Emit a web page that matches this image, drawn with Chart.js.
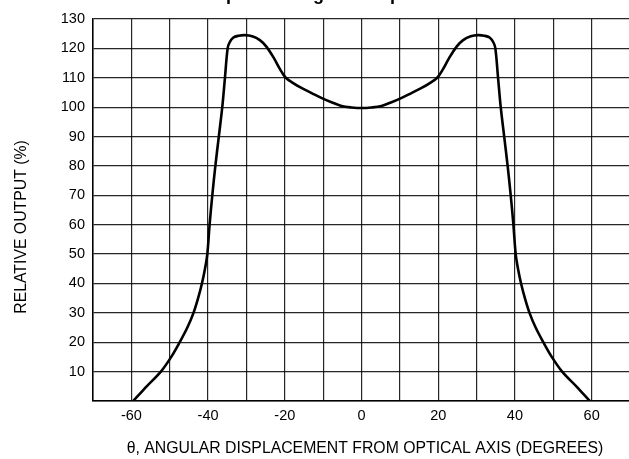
<!DOCTYPE html>
<html>
<head>
<meta charset="utf-8">
<script src="https://cdn.jsdelivr.net/npm/chart.js@4.4.0/dist/chart.umd.min.js"></script>
<style>
  html, body { margin: 0; padding: 0; background: #fff; overflow: hidden; }
  #wrap { width: 636px; height: 459px; position: relative; }
</style>
</head>
<body>
<div id="wrap"><canvas id="chart"></canvas></div>
<script>
// angle (degrees) and relative output (%)
const angles = [
  -59.5, -56, -52.3, -49.6, -47.4, -45.4, -43.8, -42.6, -41.6, -40.8, -40.2,
  -39.6, -38.9, -38.1, -37.2, -36.3, -35.6, -34.9, -34.4, -33.4, -32, -30.4,
  -28.5, -26.5, -24.8, -22.8, -21.1, -19.8, -17.8, -15.9, -13, -10.2, -7.5,
  -5.2, -2.6, 0,
  2.6, 5.2, 7.5, 10.2, 13, 15.9, 17.8, 19.8, 21.1, 22.8, 24.8, 26.5, 28.5,
  30.4, 32, 33.4, 34.4, 34.9, 35.6, 36.3, 37.2, 38.1, 38.9, 39.6, 40.2, 40.8,
  41.6, 42.6, 43.8, 45.4, 47.4, 49.6, 52.3, 56, 59.5
];
const output = [
  0, 5, 10, 15, 20, 25, 30, 35, 40, 45, 50,
  60, 70, 80, 90, 100, 110, 120, 122, 123.7, 124.3, 124.5,
  124.1, 122.8, 120.6, 116.6, 112.6, 110.1, 108.2, 106.7, 104.8, 103, 101.5,
  100.4, 99.9, 99.7,
  99.9, 100.4, 101.5, 103, 104.8, 106.7, 108.2, 110.1, 112.6, 116.6, 120.6, 122.8, 124.1,
  124.5, 124.3, 123.7, 122, 120, 110, 100, 90, 80, 70, 60, 50, 45,
  40, 35, 30, 25, 20, 15, 10, 5, 0
];
const xTickLabels = [-60, -40, -20, 0, 20, 40, 60];

const titleText = 'Relative Output vs. Angular Displacement';
const xTitle = '\u03B8, ANGULAR DISPLACEMENT FROM OPTICAL AXIS (DEGREES)';
const yTitle = 'RELATIVE OUTPUT (%)';

const FONT = "'Liberation Sans', Arial, sans-serif";
const gridColor = 'rgba(0,0,0,0.85)';

// titles drawn at fixed spots, the chart title sits mostly above the frame
const titles = {
  id: 'titles',
  afterDraw(chart) {
    const c = chart.ctx;
    c.save();
    c.fillStyle = '#000';
    c.textAlign = 'center';
    c.textBaseline = 'alphabetic';
    c.font = 'bold 18px ' + FONT;
    c.fillText(titleText, 300, -0.5);

    c.font = '15.8px ' + FONT;
    c.textBaseline = 'middle';
    c.fillText(xTitle, 365, 449);

    c.translate(22, 227);
    c.rotate(-Math.PI / 2);
    c.fillText(yTitle, 0, 0);
    c.restore();
  }
};

new Chart(document.getElementById('chart'), {
  type: 'line',
  data: {
    datasets: [{
      data: angles.map((a, i) => ({ x: a, y: output[i] })),
      borderColor: '#000',
      borderWidth: 2.6,
      pointRadius: 0,
      fill: false,
      tension: 0.35
    }]
  },
  options: {
    responsive: true,
    maintainAspectRatio: false,
    animation: false,
    layout: { padding: { left: 0, top: 19, right: 0, bottom: 0 } },
    plugins: {
      legend: { display: false },
      title: { display: false },
      tooltip: { enabled: false }
    },
    scales: {
      x: {
        type: 'linear',
        min: -70,
        max: 70,
        afterFit: s => { s.height = 58; },
        grid: { color: gridColor, lineWidth: 1.2, drawTicks: false },
        border: { color: '#000', width: 1.5 },
        ticks: {
          stepSize: 10,
          padding: 6,
          color: '#000',
          font: { family: FONT, size: 14.5 },
          maxRotation: 0,
          autoSkip: false,
          callback: v => xTickLabels.includes(v) ? String(v) : ''
        }
      },
      y: {
        min: 0,
        max: 130,
        afterFit: s => { s.width = 93; },
        grid: { color: gridColor, lineWidth: 1.2, drawTicks: false },
        border: { color: '#000', width: 1.5 },
        ticks: {
          stepSize: 10,
          padding: 8,
          color: '#000',
          font: { family: FONT, size: 14.5 },
          callback: v => v === 0 ? '' : String(v)
        }
      }
    }
  },
  plugins: [titles]
});
</script>
</body>
</html>
